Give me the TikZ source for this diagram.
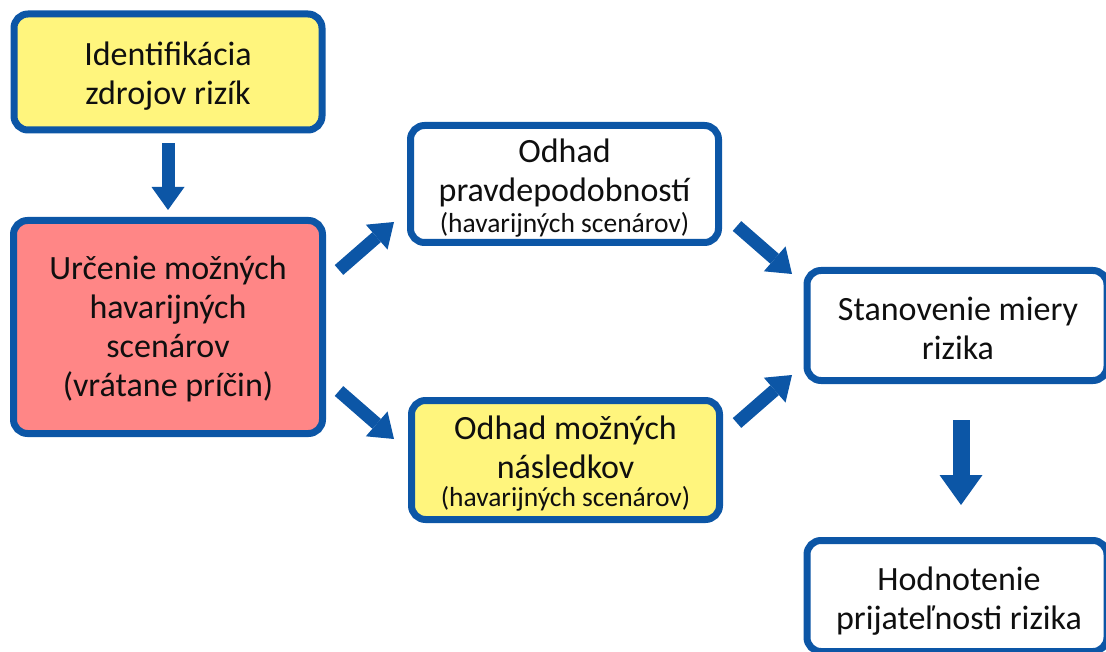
\documentclass[tikz,border=0pt]{standalone}
\usepackage{fontspec}
\setmainfont{Carlito}
\usetikzlibrary{arrows.meta}

\definecolor{flowblue}{RGB}{12,86,166}
\definecolor{boxyellow}{RGB}{255,245,125}
\definecolor{boxred}{RGB}{255,134,134}
\definecolor{inktext}{RGB}{15,15,15}

\tikzset{
  stepbox/.style={draw=flowblue, line width=7pt, rounded corners=14pt,
    inner sep=0pt},
  yellowbox/.style={stepbox, fill=boxyellow},
  redbox/.style={stepbox, fill=boxred},
  whitebox/.style={stepbox, fill=white},
  steptext/.style={align=center, inner sep=0pt, text=inktext,
    font=\fontsize{34}{39}\selectfont},
  blockarrow/.style={draw=flowblue, line width=13pt,
    -{Triangle[length=23pt, width=33pt, line width=0pt]}},
  bigblockarrow/.style={draw=flowblue, line width=17pt,
    -{Triangle[length=30pt, width=43pt, line width=0pt]}},
}
\newcommand{\smallline}[1]{{\fontsize{27.5}{30}\selectfont #1}}

\begin{document}
\begin{tikzpicture}[x=1pt, y=-1pt]
  \useasboundingbox (0,0) rectangle (1106,652);
  \clip (0,0) rectangle (1106,652);

  % process steps: frames
  \node[yellowbox, minimum width=308pt, minimum height=116pt] (ident) at (168,72) {};
  \node[redbox, minimum width=309pt, minimum height=213pt] (scen) at (168,327) {};
  \node[whitebox, minimum width=308pt, minimum height=117pt] (prob) at (564.5,184) {};
  \node[yellowbox, minimum width=308pt, minimum height=119pt] (cons) at (565.5,460) {};
  \node[whitebox, minimum width=300pt, minimum height=110pt] (measure) at (957,325.5) {};
  \node[whitebox, minimum width=300pt, minimum height=111pt] (accept) at (957,596) {};

  % process steps: texts
  \node[steptext] (identtext) at ([yshift=-4pt]ident.center)
    {Identifikácia\\zdrojov rizík};
  \node[steptext] (scentext) at ([yshift=-2pt]scen.center)
    {Určenie možných\\havarijných\\scenárov\\(vrátane príčin)};
  \node[steptext] (probtext) at ([yshift=-4pt]prob.center)
    {Odhad\\pravdepodobností\\[-8pt]\smallline{(havarijných scenárov)}};
  \node[steptext] (constext) at ([yshift=-4pt]cons.center)
    {Odhad možných\\následkov\\[-11pt]\smallline{(havarijných scenárov)}};
  \node[steptext] (measuretext) at ([xshift=1pt,yshift=-3pt]measure.center)
    {Stanovenie miery\\rizika};
  \node[steptext] (accepttext) at ([xshift=2pt,yshift=-5pt]accept.center)
    {Hodnotenie\\prijateľnosti rizika};

  % ends of the diagonal arrows
  \coordinate (toProbA) at (339,270);
  \coordinate (toProbB) at (394,222);
  \coordinate (toConsA) at (339,391);
  \coordinate (toConsB) at (394,439);
  \coordinate (fromProbA) at (737,226);
  \coordinate (fromProbB) at (792,274);
  \coordinate (fromConsA) at (737,423);
  \coordinate (fromConsB) at (792,375);

  % arrows
  \draw[blockarrow, shorten <=10pt, shorten >=7pt] (ident.south) -- (scen.north);
  \draw[blockarrow] (toProbA) -- (toProbB);
  \draw[blockarrow] (toConsA) -- (toConsB);
  \draw[blockarrow] (fromProbA) -- (fromProbB);
  \draw[blockarrow] (fromConsA) -- (fromConsB);
  \draw[bigblockarrow, shorten <=36pt, shorten >=32pt]
    ([xshift=4pt]measure.south) -- ([xshift=4pt]accept.north);
\end{tikzpicture}
\end{document}
